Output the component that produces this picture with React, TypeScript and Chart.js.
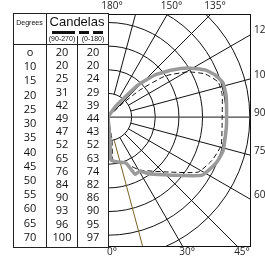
import React, { useEffect, useRef } from "react";
import { Chart, registerables } from "chart.js";

Chart.register(...registerables);

// ---- table data ----
const degreeLabels = ["o", "10", "15", "20", "25", "30", "35", "40", "45", "50", "55", "60", "65", "70"];
const candela90_270 = [20, 20, 25, 31, 42, 49, 47, 52, 65, 76, 84, 90, 93, 96, 100];
const candela0_180 = [20, 20, 24, 29, 39, 44, 43, 52, 63, 74, 82, 86, 90, 95, 97];

// ---- polar curves (angle from nadir in degrees, candela) ----
const grayAngles = [0, 5, 4, 12.5, 21.4, 25.3, 30.6, 36.4, 47.8, 58.3, 67.2, 73.9, 86, 99.7, 106.6, 111.4, 115.9, 121.5, 126.3, 131.8, 136.8, 139.6, 145, 0];
const grayCandela = [0, 19.6, 36.5, 39, 41.9, 53.5, 53.2, 60, 73.2, 93.6, 99.5, 101.5, 100.5, 101.5, 101.5, 97.4, 91.3, 79.5, 67.3, 53.4, 37.2, 22.2, 10.3, 0];
const dashAngles = [0, 9.9, 6.6, 17.3, 25.1, 31.1, 48.4, 58.6, 67.5, 76.1, 90, 100.9, 107.6, 113.9, 119.4, 125.7, 130.2, 132.9, 0];
const dashCandela = [0, 19.8, 36.7, 39.9, 45.9, 52.5, 70.2, 89.4, 95.4, 98.7, 96.6, 98.4, 97.8, 89.9, 77.8, 59.5, 35.5, 16.2, 0];

// ---- grid ----
const ringValues = [20, 40, 60, 80, 100, 120];
const spokeAngles = [15, 30, 45, 60, 75, 90, 105, 120, 135, 150, 165];
const spokesFromCenter = [90, 135];

// ---- edge labels ----
const topLabelAngles = [180, 150, 135];
const rightLabelAngles = [120, 105, 90, 75, 60];
const bottomLabelAngles = [0, 30, 45];

const X_MAX = 121;
const Y_MIN = -110;
const Y_MAX = 87.2;

const toXY = (angles: number[], vals: number[]) =>
  angles.map((a, i) => {
    const rad = (a * Math.PI) / 180;
    return { x: vals[i] * Math.sin(rad), y: -vals[i] * Math.cos(rad) };
  });

const polarPlugin = {
  id: "polarGrid",
  beforeDatasetsDraw(chart: any) {
    const { ctx, chartArea: a, scales } = chart;
    const xs = scales.x, ys = scales.y;
    const cx = xs.getPixelForValue(0);
    const cy = ys.getPixelForValue(0);
    const pxPer = xs.getPixelForValue(1) - cx;
    ctx.save();
    ctx.beginPath();
    ctx.rect(a.left, a.top, a.right - a.left, a.bottom - a.top);
    ctx.clip();
    ctx.lineWidth = 1;
    ctx.strokeStyle = "#111";
    for (const r of ringValues) {
      ctx.beginPath();
      ctx.arc(cx, cy, r * pxPer, -Math.PI / 2, Math.PI / 2);
      ctx.stroke();
    }
    for (const ang of spokeAngles) {
      const rad = (ang * Math.PI) / 180;
      const r0 = spokesFromCenter.includes(ang) ? 0 : ringValues[0];
      const dx = Math.sin(rad);
      const dy = Math.cos(rad);
      ctx.beginPath();
      ctx.moveTo(cx + dx * r0 * pxPer, cy + dy * r0 * pxPer);
      ctx.lineTo(cx + dx * 400, cy + dy * 400);
      ctx.strokeStyle = ang === 15 ? "#7a6328" : ang === 90 ? "#444" : "#111";
      ctx.lineWidth = ang === 90 ? 1.3 : 1;
      ctx.stroke();
    }
    ctx.restore();
  },
  afterDraw(chart: any) {
    const { ctx, chartArea: a, scales } = chart;
    const xs = scales.x, ys = scales.y;
    ctx.save();
    ctx.strokeStyle = "#111";
    ctx.lineWidth = 1;
    ctx.strokeRect(a.left + 0.5, a.top + 0.5, a.right - a.left - 1, a.bottom - a.top - 1);
    ctx.fillStyle = "#222";
    ctx.font = '10px "Open Sans"';
    ctx.textBaseline = "middle";
    ctx.textAlign = "center";
    for (const ang of topLabelAngles) {
      const rad = ((180 - ang) * Math.PI) / 180;
      const xv = Y_MAX * Math.tan(rad);
      ctx.fillText(ang + "°", xs.getPixelForValue(xv) + 4, a.top - 8);
    }
    for (const ang of bottomLabelAngles) {
      const rad = (ang * Math.PI) / 180;
      const xv = -Y_MIN * Math.tan(rad);
      ctx.fillText(ang + "°", xs.getPixelForValue(xv) + 4, a.bottom + 5);
    }
    ctx.textAlign = "left";
    for (const ang of rightLabelAngles) {
      const rad = ((90 - ang) * Math.PI) / 180;
      const yv = -X_MAX * Math.tan(rad);
      ctx.fillText(ang + "°", a.right + 3, ys.getPixelForValue(yv) - 4);
    }
    ctx.restore();
  },
};

function Table() {
  const colStyle = (left: number, width: number): React.CSSProperties => ({
    position: "absolute",
    left,
    width,
    top: 46,
    height: 197,
    display: "flex",
    flexDirection: "column",
    justifyContent: "space-between",
    alignItems: "center",
    font: '11px "Open Sans"',
    color: "#111",
  });
  const row: React.CSSProperties = { height: 12, lineHeight: "12px" };
  return (
    <div style={{ position: "absolute", left: 0, top: 0, width: 265, height: 260, pointerEvents: "none" }}>
      <div style={{ position: "absolute", left: 13, top: 13, width: 96, height: 235, border: "1px solid #222", boxSizing: "border-box" }} />
      <div style={{ position: "absolute", left: 13, top: 44, width: 95, height: 1, background: "#222" }} />
      <div style={{ position: "absolute", left: 46, top: 13, width: 1, height: 234, background: "#222" }} />
      <div style={{ position: "absolute", left: 77, top: 36, width: 1, height: 211, background: "#222" }} />
      <div style={{ position: "absolute", left: 13, width: 33, top: 19, textAlign: "center", font: '7px "Liberation Sans"', color: "#111" }}>Degrees</div>
      <div style={{ position: "absolute", left: 46, width: 62, top: 14, textAlign: "center", font: '13px "Liberation Sans"', color: "#111" }}>Candelas</div>
      <div style={{ position: "absolute", left: 52, top: 31, width: 23, height: 3, background: "#111" }} />
      <div style={{ position: "absolute", left: 79, top: 31, width: 10, height: 3, background: "#111" }} />
      <div style={{ position: "absolute", left: 93, top: 31, width: 10, height: 3, background: "#111" }} />
      <div style={{ position: "absolute", left: 47, width: 30, top: 35, textAlign: "center", font: '7px "Liberation Sans"', color: "#111" }}>(90-270)</div>
      <div style={{ position: "absolute", left: 78, width: 30, top: 35, textAlign: "center", font: '7px "Liberation Sans"', color: "#111" }}>(0-180)</div>
      <div style={colStyle(14, 32)}>
        {degreeLabels.map((d, i) => (
          <div key={i} style={row}>{d}</div>
        ))}
      </div>
      <div style={colStyle(47, 30)}>
        {candela90_270.map((d, i) => (
          <div key={i} style={row}>{d}</div>
        ))}
      </div>
      <div style={colStyle(78, 30)}>
        {candela0_180.map((d, i) => (
          <div key={i} style={row}>{d}</div>
        ))}
      </div>
    </div>
  );
}

export default function App() {
  const ref = useRef<HTMLCanvasElement | null>(null);
  useEffect(() => {
    if (!ref.current) return;
    const chart = new Chart(ref.current, {
      type: "scatter",
      data: {
        datasets: [
          {
            label: "(90-270)",
            data: toXY(grayAngles, grayCandela),
            showLine: true,
            borderColor: "#9a9a9a",
            borderWidth: 3.5,
            pointRadius: 0,
            tension: 0.15,
            fill: false,
          },
          {
            label: "(0-180)",
            data: toXY(dashAngles, dashCandela),
            showLine: true,
            borderColor: "#111",
            borderWidth: 1,
            borderDash: [5, 3],
            pointRadius: 0,
            tension: 0.15,
            fill: false,
          },
        ],
      },
      options: {
        animation: false,
        responsive: false,
        layout: { padding: { left: 108, top: 14, right: 14, bottom: 13 } },
        plugins: { legend: { display: false }, tooltip: { enabled: false } },
        scales: {
          x: { type: "linear", min: 0, max: X_MAX, display: false },
          y: { type: "linear", min: Y_MIN, max: Y_MAX, display: false },
        },
      },
      plugins: [polarPlugin],
    });
    return () => chart.destroy();
  }, []);
  return (
    <div style={{ position: "fixed", left: 0, top: 0, width: 265, height: 260, background: "#fff", overflow: "hidden" }}>
      <canvas ref={ref} width={265} height={260} style={{ position: "absolute", left: 0, top: 0 }} />
      <Table />
    </div>
  );
}
